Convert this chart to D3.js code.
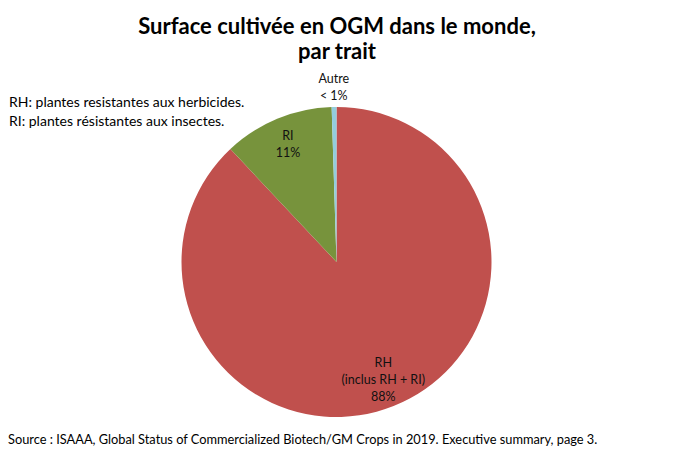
<!DOCTYPE html>
<html>
<head>
<meta charset="utf-8">
<script src="https://cdn.jsdelivr.net/npm/d3@7"></script>
<style>
  body { margin: 0; background: #fff; }
  svg { font-family: Lato, "Open Sans", sans-serif; }
</style>
</head>
<body>
<svg id="chart" width="674" height="456"></svg>
<script>
// Data
const traits = ["RH", "RI", "Autre"];
const shares = [88, 11.5, 0.5];
const labelLines = [["RH", "(inclus RH + RI)", "88%"], ["RI", "11%"], ["Autre", "< 1%"]];
const colors = ["#C0504D", "#77933C", "#93CDDD"];

const titleLines = ["Surface cultivée en OGM dans le monde,", "par trait"];
const noteLines = ["RH: plantes resistantes aux herbicides.", "RI: plantes résistantes aux insectes."];
const source = "Source : ISAAA, Global Status of Commercialized Biotech/GM Crops in 2019. Executive summary, page 3.";

const svg = d3.select("#chart");
const cx = 336.5, cy = 262, radius = 155;

// Title
svg.append("text")
  .attr("x", 337).attr("y", 34)
  .attr("text-anchor", "middle")
  .style("font-size", "22px").style("font-weight", "bold")
  .selectAll("tspan")
  .data(titleLines)
  .enter().append("tspan")
  .attr("x", 337)
  .attr("dy", (d, i) => i === 0 ? 0 : 25)
  .text(d => d);

// Notes
svg.append("g").selectAll("text")
  .data(noteLines)
  .enter().append("text")
  .attr("x", 9)
  .attr("y", (d, i) => 107 + i * 19)
  .style("font-size", "14px")
  .text(d => d);

// Pie
const data = traits.map((t, i) => ({ trait: t, value: shares[i], lines: labelLines[i], color: colors[i] }));
const pie = d3.pie().sort(null).value(d => d.value);
const arc = d3.arc().innerRadius(0).outerRadius(radius);
const arcs = pie(data);

const g = svg.append("g").attr("transform", `translate(${cx},${cy})`);
g.selectAll("path")
  .data(arcs)
  .enter().append("path")
  .attr("d", arc)
  .attr("fill", d => d.data.color);

// Labels: inside for big slices, outside for the sliver
const labelArc = d3.arc().innerRadius(127).outerRadius(127);
const outArc = d3.arc().innerRadius(175).outerRadius(175);
const lbl = g.selectAll("g.lbl")
  .data(arcs)
  .enter().append("g")
  .attr("class", "lbl")
  .attr("transform", d => {
    const c = d.data.trait === "Autre" ? outArc.centroid(d) : labelArc.centroid(d);
    return `translate(${c[0]},${c[1]})`;
  });
lbl.append("text")
  .attr("text-anchor", "middle")
  .style("font-size", "12.5px")
  .style("fill", "#111")
  .selectAll("tspan")
  .data(d => d.data.lines.map((l, i) => ({ l, i, n: d.data.lines.length })))
  .enter().append("tspan")
  .attr("x", 0)
  .attr("y", d => (d.i - (d.n - 1) / 2) * 17 + 4)
  .text(d => d.l);

// Source
svg.append("text")
  .attr("x", 8).attr("y", 444)
  .style("font-size", "12.8px")
  .text(source);
</script>
</body>
</html>
